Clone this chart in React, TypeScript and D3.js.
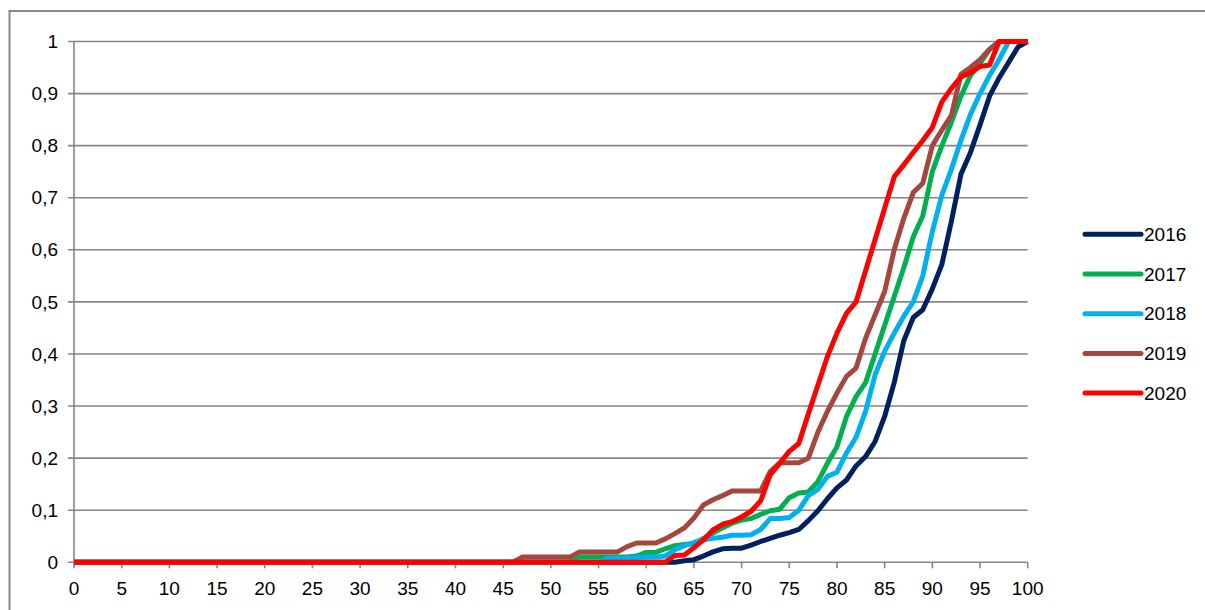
import React, { useEffect } from "react";
import * as d3 from "d3";

const scores: number[] = d3.range(0, 101);

const s2016: number[] = [
  0,0,0,0,0,0,0,0,0,0, 0,0,0,0,0,0,0,0,0,0, 0,0,0,0,0,0,0,0,0,0, 0,0,0,0,0,0,0,0,0,0,
  0,0,0,0,0,0,0,0,0,0, 0,0,0,0,0,0,0,0,0,0, 0,0,0,0,
  0.003,0.005,0.012,0.02,0.026,0.027,0.027,0.033,0.04,0.046,0.052,0.057,0.063,0.08,0.099,0.122,
  0.143,0.158,0.185,0.203,0.232,0.28,0.345,0.425,0.47,0.485,0.525,0.572,0.655,0.745,0.787,0.84,
  0.895,0.93,0.96,0.99,1,
];

const s2017: number[] = [
  0,0,0,0,0,0,0,0,0,0, 0,0,0,0,0,0,0,0,0,0, 0,0,0,0,0,0,0,0,0,0, 0,0,0,0,0,0,0,0,0,0,
  0,0,0,0,0,0,0,0,0,0, 0,0,0,
  0.01,0.01,0.01,0.01,0.01,0.01,0.012,0.019,0.019,0.026,0.032,0.034,0.036,0.046,0.056,0.066,
  0.075,0.081,0.084,0.092,0.099,0.102,0.124,0.133,0.135,0.155,0.19,0.222,0.28,0.318,0.345,0.4,
  0.455,0.51,0.565,0.625,0.665,0.75,0.8,0.845,0.895,0.935,0.958,0.985,1,1,1,1,
];

const s2018: number[] = [
  0,0,0,0,0,0,0,0,0,0, 0,0,0,0,0,0,0,0,0,0, 0,0,0,0,0,0,0,0,0,0, 0,0,0,0,0,0,0,0,0,0,
  0,0,0,0,0,0,0,0,0,0, 0,0,0,0,0,0,
  0.008,0.008,0.008,0.009,0.01,0.01,0.012,0.024,0.032,0.038,0.043,0.046,0.048,0.052,0.052,0.053,
  0.063,0.084,0.084,0.086,0.1,0.128,0.14,0.165,0.173,0.21,0.24,0.29,0.36,0.405,0.44,0.472,
  0.5,0.55,0.635,0.705,0.755,0.81,0.86,0.9,0.935,0.965,1,1,1,
];

const s2019: number[] = [
  0,0,0,0,0,0,0,0,0,0, 0,0,0,0,0,0,0,0,0,0, 0,0,0,0,0,0,0,0,0,0, 0,0,0,0,0,0,0,0,0,0,
  0,0,0,0,0,0,0,
  0.01,0.01,0.01,0.01,0.01,0.01,0.02,0.02,0.02,0.02,0.02,0.03,0.037,0.037,0.037,0.045,
  0.055,0.066,0.085,0.11,0.12,0.128,0.137,0.137,0.137,0.137,0.174,0.191,0.191,0.191,0.2,0.25,
  0.29,0.325,0.357,0.373,0.43,0.475,0.52,0.6,0.66,0.71,0.728,0.8,0.83,0.858,0.937,0.95,
  0.965,0.985,1,1,1,1,
];

const s2020: number[] = [
  0,0,0,0,0,0,0,0,0,0, 0,0,0,0,0,0,0,0,0,0, 0,0,0,0,0,0,0,0,0,0, 0,0,0,0,0,0,0,0,0,0,
  0,0,0,0,0,0,0,0,0,0, 0,0,0,0,0,0,0,0,0,0, 0,0,0,
  0.013,0.014,0.028,0.043,0.062,0.073,0.078,0.087,0.098,0.118,0.168,0.19,0.213,0.228,0.285,0.34,
  0.395,0.44,0.478,0.5,0.56,0.62,0.68,0.74,0.763,0.787,0.81,0.835,0.884,0.91,0.932,0.94,
  0.952,0.955,1,1,1,1,
];

const seriesNames: string[] = ["2016", "2017", "2018", "2019", "2020"];
const seriesValues: number[][] = [s2016, s2017, s2018, s2019, s2020];
const seriesColors: string[] = ["#002060", "#00B050", "#00B0F0", "#A5473F", "#FF0000"];

const xTicks: number[] = [0,5,10,15,20,25,30,35,40,45,50,55,60,65,70,75,80,85,90,95,100];
const yTicks: number[] = [0,0.1,0.2,0.3,0.4,0.5,0.6,0.7,0.8,0.9,1];

const W = 1205;
const H = 610;
const FONT = "'Liberation Sans', Arial, sans-serif";
const GRID = "#868686";

export default function App() {
  useEffect(() => {
    document.body.style.margin = "0";
    document.body.style.overflow = "hidden";
    document.documentElement.style.overflow = "hidden";
  }, []);

  const x = d3.scaleLinear().domain([0, 100]).range([74, 1027.7]);
  const y = d3.scaleLinear().domain([0, 1]).range([562.3, 41.5]);
  const line = d3
    .line<number>()
    .x((_, i) => x(scores[i]))
    .y((d) => y(d));
  const fmtY = (v: number) => (v === 0 ? "0" : v === 1 ? "1" : d3.format(".1f")(v).replace(".", ","));

  const legendX1 = 1085;
  const legendX2 = 1141;
  const legendY0 = 234.3;
  const legendStep = 39.7;

  return (
    <svg
      width={W}
      height={H}
      style={{ position: "absolute", left: 0, top: 0, background: "#fff", display: "block" }}
      fontFamily={FONT}
    >
      <rect x={0} y={0} width={W} height={H} fill="#fff" />
      <path d={`M9.5,${H + 20} V11 H${W + 20}`} fill="none" stroke={GRID} strokeWidth={2} />
      {yTicks.map((t) => (
        <g key={"y" + t}>
          <line x1={68} x2={x(100)} y1={y(t)} y2={y(t)} stroke={GRID} strokeWidth={1.6} />
          <text x={58} y={y(t)} dy="0.35em" textAnchor="end" fontSize={19} fill="#000">
            {fmtY(t)}
          </text>
        </g>
      ))}
      <line x1={x(0)} x2={x(0)} y1={y(1)} y2={y(0)} stroke={GRID} strokeWidth={1.6} />
      {xTicks.map((t) => (
        <g key={"x" + t}>
          <line x1={x(t)} x2={x(t)} y1={y(0)} y2={y(0) + 6} stroke={GRID} strokeWidth={1.6} />
          <text x={x(t)} y={595} textAnchor="middle" fontSize={19} fill="#000">
            {t}
          </text>
        </g>
      ))}
      {seriesValues.map((vals, i) => (
        <path
          key={seriesNames[i]}
          d={line(vals) || ""}
          fill="none"
          stroke={seriesColors[i]}
          strokeWidth={5}
          strokeLinejoin="round"
          strokeLinecap="butt"
        />
      ))}
      {seriesNames.map((name, i) => (
        <g key={"lg" + name}>
          <line
            x1={legendX1}
            x2={legendX2}
            y1={legendY0 + i * legendStep}
            y2={legendY0 + i * legendStep}
            stroke={seriesColors[i]}
            strokeWidth={5}
            strokeLinecap="round"
          />
          <text x={1144} y={legendY0 + i * legendStep} dy="0.35em" fontSize={19} fill="#000">
            {name}
          </text>
        </g>
      ))}
    </svg>
  );
}
